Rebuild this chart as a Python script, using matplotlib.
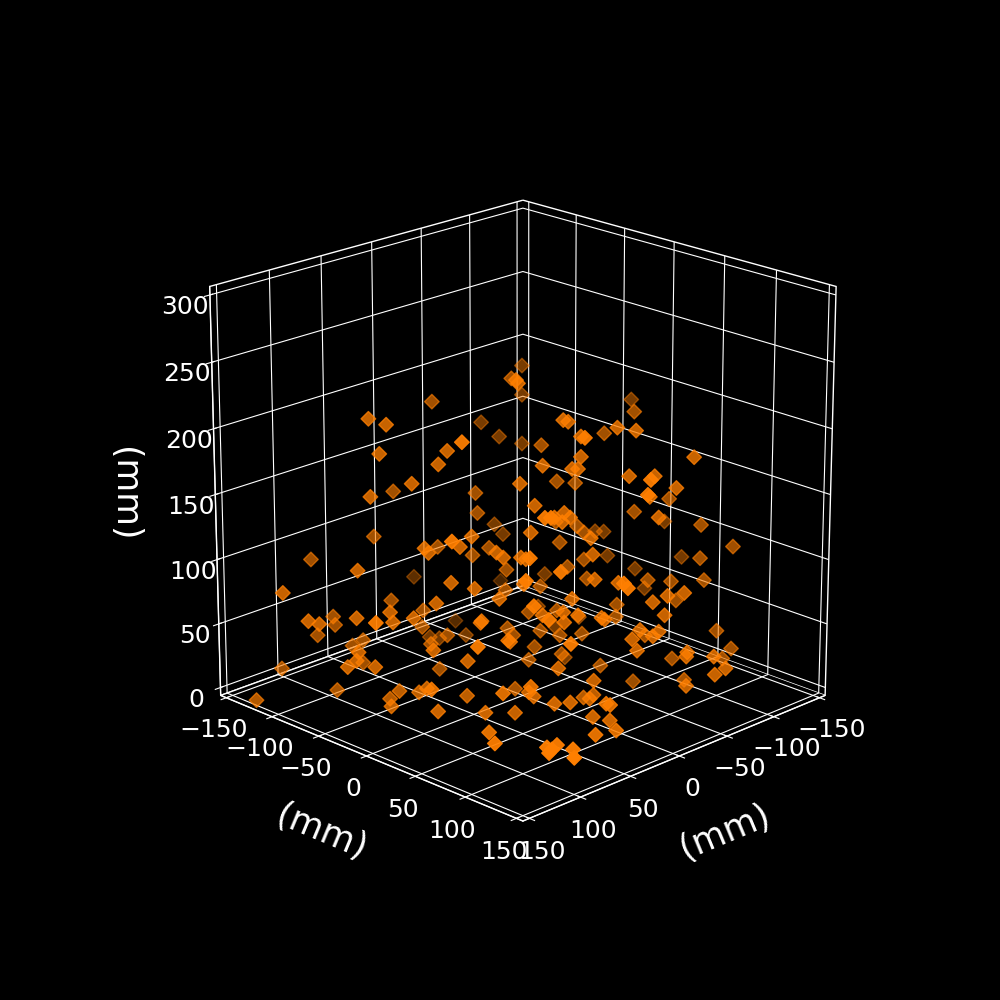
import matplotlib
matplotlib.use('Agg')
import matplotlib.pyplot as plt

# positions in mm
x = [-2, 65, 57, -62, -69, 53, 30, 65, 37, 54, 77, 33, -9, -7, -52, -55, 51, 32, 75, 40, 20, 58, 57, -7, 22, 20, 3, 87, -47, -17, -17, -93, -89,
     -145, -105, -34, -36, -60, -69, -86, -9, -40, -51, -80, -94, -37, -16, -30, -33, -58, -71, -35, -1, -53, -62, -80, -31, -65, -108, -5, -88, -66, -142, -120,
     25, 22, -13, -46, -16, -19, -21, -56, 2, -58, -28, -104, -108, -44, -133, -145, -114, -26, -54, -106, 11, 39, 9,
     96, -22, 51, 138, 40, -84, 29, -8, 53, 62, 38, 87, 130, 125, 86, 86, 105, 127, 87, 76, -43, 42, 43, -2, 42, 97, 75, 81, 2, -3, 30, -18, 40, 71, 80, 32,
     110, 56, 112, 78, 118, 104, 40, 121, 104, 88, 78, 74, 96, 53, 60, 88, 97, 83, 59, 155, 78, 89,
     -12, -70, -44, 26, -118, 45, 14, -52, -23, -34, -5, -4, -83, -120, -95, -112, -26, -57, -66, -94, -48, -8, -63, 45, -61, -16, -31, -1, 10, 40, -52, -8, -80, -60, -20, -21, 0, -66, -19, -4, 31, -28, 33, -40,
     -110, -37, -46, -42, -72, -31, -13, -114, -32, -57, -56, -82, -70, -108, -74, -67, -26, -58, -8, -44, 11, -6, -62, -78, -53, 9, 46, 27, 25, -11, -11, -4, 24, 16, 8, 6, 39, 5, 1, 10, 26, 68, 68, 60, 74, 55, 65]
y = [-96, -92, -82, -106, -94, -8, -47, -81, -49, -59, -78, -101, -58, -54, -82, -76, -103, -20, 4, -24, -68, -42, -39, -42, -5, 0, -49, -132, -59, -24, -22, -94, -90,
     -31, 10, 7, 10, 36, 46, -2, 53, 19, -32, -81, 80, 22, 4, 20, 23, 50, 63, 93, -4, -18, -8, 76, 94, 64, 43, 7, 27, 72, 7, 64,
     47, 50, 19, -12, 24, 23, 27, 0, 10, 5, 41, -28, -23, -6, 84, 22, 69, 45, 9, -17, 9, 46, 12,
     -72, -138, -22, -106, -9, -108, 5, -26, -83, -26, -65, -48, -88, -82, -110, -108, -64, -20, -45, -35, -115, 0, 0, -18, -62, -115, -90, -95, -96, -91, -48, -78, -55, -20, 35, 17,
     -57, 0, -57, -87, -60, -46, -46, -128, -87, -38, -28, -24, 4, -4, 40, -48, -37, -3, 21, -118, 44, 61,
     -29, -47, 2, 64, 0, 48, 15, 14, 50, 63, 100, 97, 46, 8, 58, 75, -8, 90, 98, 64, 84, 42, 34, 56, -45, -10, 4, 40, 30, 66, 92, 48, -21, 36, 60, 62, 42, -32, -1, -14, 18, 10, 81, 21,
     90, 82, 92, 90, 54, 80, -1, 101, 84, 110, 110, 72, 124, 98, 132, 128, 14, -14, -2, 36, 47, 66, 52, 88, 113, 1, 54, 33, 36, 61, 51, 64, 56, 64, 92, 94, 31, 76, 89, 104, 99, 92, 97, 94, 100, 105, 116]
z = [197, 201, 197, 164, 154, 201, 179, 177, 170, 157, 148, 135, 134, 120, 92, 85, 104, 121, 135, 114, 97, 113, 110, 96, 110, 107, 91, 88, 213, 227, 225, 204, 183,
     180, 190, 200, 199, 195, 193, 175, 204, 189, 167, 149, 175, 175, 169, 167, 167, 162, 162, 176, 157, 142, 141, 154, 166, 148, 130, 142, 121, 134, 94, 112,
     151, 151, 134, 114, 131, 137, 134, 111, 124, 107, 120, 87, 87, 100, 97, 69, 89, 109, 88, 70, 107, 124, 106,
     98, 43, 90, 83, 86, 31, 79, 67, 60, 76, 53, 70, 64, 62, 49, 43, 66, 81, 63, 66, 8, 64, 63, 41, 42, 36, 33, 29, 13, 12, 36, 14, 30, 44, 65, 51,
     43, 37, 37, 17, 33, 33, 13, 13, 3, 12, 11, 14, 28, 8, 25, 3, 3, 5, 4, 1, 1.5, 1.5,
     81, 57, 83, 115, 61, 109, 89, 75, 92, 90, 104, 107, 74, 47, 73, 74, 70, 81, 83, 60, 77, 79, 57, 92, 34, 52, 53, 70, 68, 83, 68, 68, 27, 49, 66, 65, 63, 20, 39, 36, 50, 36, 67, 37,
     39, 58, 57, 54, 36, 52, 28, 27, 44, 43, 40, 20, 40, 20, 32, 28, 23, 3, 19, 15, 32, 23, 2, 9, 19, 2, 30, 14, 11, 9, 4, 9, 11, 12, 17, 16, 1, 1, 1, 0.5, 0.5, 1.5, 1.5, 1.5, 1.5, 0, 0]

plt.style.use('dark_background')

fig = plt.figure(figsize=(10, 10), dpi=100)
ax = fig.add_subplot(projection='3d')
ax.scatter(x, y, z, marker='D', s=55, color='#ff7f00')

# limits a bit wider than the ticks, the grid sits inside the box
ax.set_xlim(-156.25, 156.25)
ax.set_ylim(-156.25, 156.25)
ax.set_zlim(-6.25, 306.25)
ax.set_xticks([-150, -100, -50, 0, 50, 100, 150])
ax.set_yticks([-150, -100, -50, 0, 50, 100, 150])
ax.set_zticks([0, 50, 100, 150, 200, 250, 300])
ax.view_init(elev=20, azim=45)
ax.set_box_aspect((1, 1, 1), zoom=0.95)

for axis in [ax.xaxis, ax.yaxis, ax.zaxis]:
    axis.set_pane_color((0, 0, 0, 1))
    axis.pane.set_edgecolor((1, 1, 1, 0.35))

ax.xaxis.set_rotate_label(True)
ax.yaxis.set_rotate_label(True)
ax.zaxis.set_rotate_label(False)

ax.set_xlabel('(mm)', fontsize=25, labelpad=20)
ax.set_ylabel('(mm)', fontsize=25, labelpad=20)
ax.set_zlabel('(mm)', fontsize=25, labelpad=22, rotation=270)
ax.tick_params(labelsize=18)

fig.savefig('out.png', dpi=100, facecolor='black')
